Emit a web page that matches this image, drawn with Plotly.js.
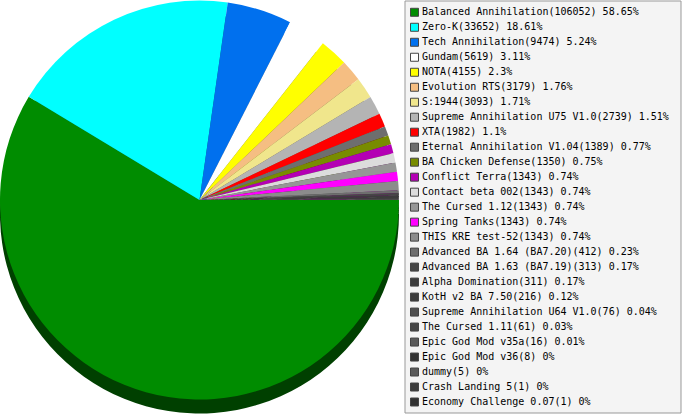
<!DOCTYPE html>
<html>
<head>
<meta charset="utf-8">
<script src="https://cdn.plot.ly/plotly-3.0.1.min.js"></script>
<style>html,body{margin:0;padding:0;background:#fff;}#chart{width:683px;height:415px;}</style>
</head>
<body>
<div id="chart"></div>
<script>
var names = ["Balanced Annihilation","Zero-K","Tech Annihilation","Gundam","NOTA","Evolution RTS","S:1944","Supreme Annihilation U75 V1.0","XTA","Eternal Annihilation V1.04","BA Chicken Defense","Conflict Terra","Contact beta 002","The Cursed 1.12","Spring Tanks","THIS KRE test-52","Advanced BA 1.64 (BA7.20)","Advanced BA 1.63 (BA7.19)","Alpha Domination","KotH v2 BA 7.50","Supreme Annihilation U64 V1.0","The Cursed 1.11","Epic God Mod v35a","Epic God Mod v36","dummy","Crash Landing 5","Economy Challenge 0.07"];
var values = [106052,33652,9474,5619,4155,3179,3093,2739,1982,1389,1350,1343,1343,1343,1343,1343,412,313,311,216,76,61,16,8,5,1,1];
var percents = ["58.65","18.61","5.24","3.11","2.3","1.76","1.71","1.51","1.1","0.77","0.75","0.74","0.74","0.74","0.74","0.74","0.23","0.17","0.17","0.12","0.04","0.03","0.01","0","0","0","0"];
var colors = ["#008c00","#00ffff","#0070ee","#ffffff","#ffff00","#f5be82","#f0e68c","#b4b4b4","#ff0000","#6e6e6e","#788c00","#b400b4","#dcdcdc","#969696","#ff00ff","#8c8c8c","#6e6e6e","#464646","#3c3c3c","#3c3c3c","#505050","#464646","#5a5a5a","#323232","#5a5a5a","#3c3c3c","#323232"];

function darken(hex, f) {
  var n = parseInt(hex.slice(1), 16);
  var r = Math.round(((n >> 16) & 255) * f), g = Math.round(((n >> 8) & 255) * f), b = Math.round((n & 255) * f);
  return "rgb(" + r + "," + g + "," + b + ")";
}
var rimColors = colors.map(function(c){ return darken(c, 0.46); });
var legendLabels = names.map(function(n, i){ return n + "(" + values[i] + ") " + percents[i] + "%"; });

var W = 683, H = 415;
var rimPie = {
  type: "pie", values: values, labels: names, sort: false, direction: "clockwise", rotation: 90,
  marker: {colors: rimColors, line: {width: 0}}, textinfo: "none", hoverinfo: "none",
  domain: {x: [0, 399/W], y: [1 - 413.5/H, 1 - 14.5/H]}, showlegend: false
};
var topPie = {
  type: "pie", values: values, labels: names, sort: false, direction: "clockwise", rotation: 90,
  marker: {colors: colors, line: {width: 0}}, textinfo: "none", hoverinfo: "none",
  domain: {x: [0, 399/W], y: [1 - 399.5/H, 1 - 0.5/H]}, showlegend: false
};
var legendSwatches = {
  type: "scatter", mode: "markers",
  x: names.map(function(){ return 414.5; }), y: names,
  marker: {symbol: "square", size: 8, color: colors, line: {width: 1, color: "#444"}},
  hoverinfo: "none", showlegend: false, cliponaxis: false
};
var legendText = {
  type: "scatter", mode: "text",
  x: names.map(function(){ return 422; }), y: names,
  text: legendLabels, textposition: "middle right",
  textfont: {family: "DejaVu Sans Mono", size: 10, color: "#000"},
  hoverinfo: "none", showlegend: false, cliponaxis: false
};
var layout = {
  width: W, height: H, margin: {l: 0, r: 0, t: 0, b: 0, pad: 0},
  paper_bgcolor: "#fff", plot_bgcolor: "rgba(0,0,0,0)", showlegend: false,
  xaxis: {domain: [0, 1], range: [0, W], visible: false, fixedrange: true},
  yaxis: {type: "category", range: [names.length - 0.133, -0.82], visible: false, fixedrange: true},
  shapes: [{type: "rect", xref: "paper", yref: "paper", layer: "below",
    x0: 405/W, x1: 681/W, y0: 1 - 413/H, y1: 1 - 1/H,
    fillcolor: "#f4f4f4", line: {color: "#999", width: 1}}]
};
Plotly.newPlot("chart", [rimPie, topPie, legendSwatches, legendText], layout, {staticPlot: true, displayModeBar: false});
</script>
</body>
</html>
